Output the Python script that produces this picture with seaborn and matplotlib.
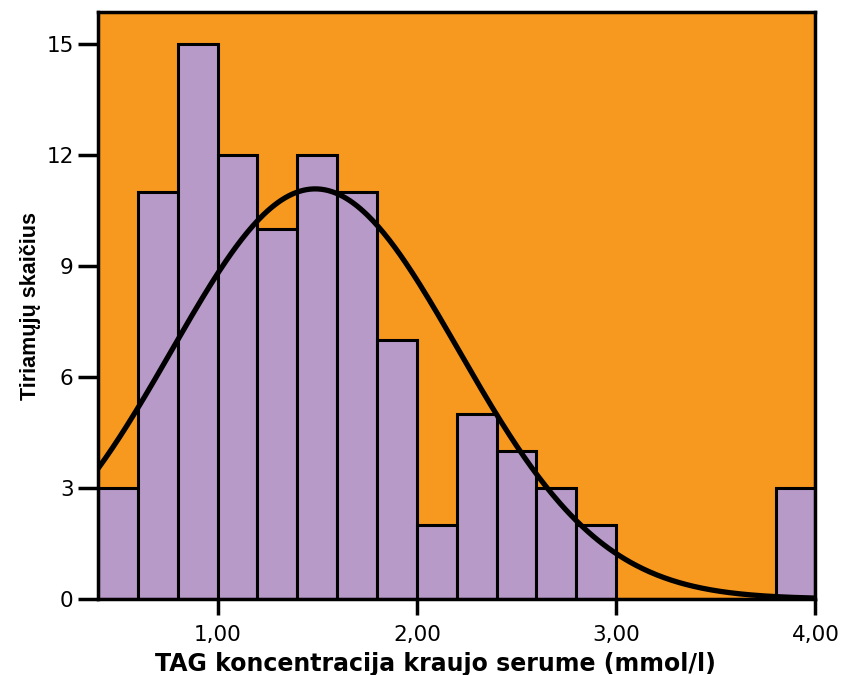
import numpy as np
import pandas as pd
import matplotlib
matplotlib.use("Agg")
import matplotlib.pyplot as plt
import seaborn as sns

bin_left = [0.4, 0.6, 0.8, 1.0, 1.2, 1.4, 1.6, 1.8, 2.0, 2.2, 2.4, 2.6, 2.8, 3.0, 3.2, 3.4, 3.6, 3.8]
counts = [3, 11, 15, 12, 10, 12, 11, 7, 2, 5, 4, 3, 2, 0, 0, 0, 0, 3]
bin_width = 0.2
curve_mean = 1.49
curve_sd = 0.72
y_ticks = [0, 3, 6, 9, 12, 15]
x_ticks = [1.0, 2.0, 3.0, 4.0]
x_tick_labels = ["1,00", "2,00", "3,00", "4,00"]
x_label = "TAG koncentracija kraujo serume (mmol/l)"
y_label = "Tiriamųjų skaičius"

sns.set_style("white")
plt.rcParams['font.family'] = ['DejaVu Sans']
plt.rcParams['text.color'] = 'black'
plt.rcParams['axes.labelcolor'] = 'black'
plt.rcParams['xtick.color'] = 'black'
plt.rcParams['ytick.color'] = 'black'

fig = plt.figure(figsize=(8.42, 6.75), dpi=100)
ax = fig.add_axes([0.1164, 0.1126, 0.852, 0.869])
ax.set_facecolor("#F7981F")

df = pd.DataFrame({"x": np.array(bin_left) + bin_width / 2, "w": counts})
edges = [round(b, 2) for b in bin_left] + [round(bin_left[-1] + bin_width, 2)]
sns.histplot(data=df, x="x", weights="w", bins=edges, ax=ax,
             color="#B89AC8", alpha=1.0, edgecolor="black", linewidth=2.2)

n = sum(counts)
xs = np.linspace(0.4, 4.0, 400)
ys = n * bin_width / (curve_sd * np.sqrt(2 * np.pi)) * np.exp(-0.5 * ((xs - curve_mean) / curve_sd) ** 2)
sns.lineplot(x=xs, y=ys, ax=ax, color="black", linewidth=3.8)

ax.set_xlim(0.4, 4.0)
ax.set_ylim(0, 15.85)
ax.set_yticks(y_ticks)
ax.set_yticklabels([str(t) for t in y_ticks], fontsize=15.5)
ax.set_xticks(x_ticks)
ax.set_xticklabels(x_tick_labels, fontsize=15.5)
ax.tick_params(axis="y", left=True, direction="out", length=14.5, width=2.5,
               color="black", labelcolor="black", pad=3)
ax.tick_params(axis="x", bottom=True, direction="out", length=11.5, width=2.5,
               color="black", labelcolor="black", pad=7)
for s in ax.spines.values():
    s.set_linewidth(2.5)
    s.set_color("black")
ax.set_xlabel(x_label, fontsize=17, fontweight="bold", color="black")
ax.xaxis.set_label_coords(0.471, -0.09)
ax.set_ylabel(y_label, fontsize=15.5, fontweight="bold", labelpad=4, color="black",
              family=["Liberation Sans", "DejaVu Sans"])

fig.savefig("out.png", dpi=100)
